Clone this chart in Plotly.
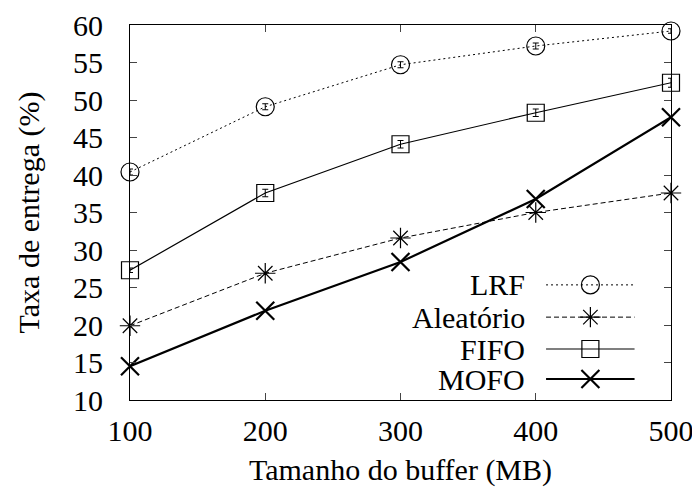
import plotly.graph_objects as go

buffer_mb = [100, 200, 300, 400, 500]
lrf = [40.4, 49.1, 54.7, 57.2, 59.2]
lrf_err = [0.4, 0.4, 0.4, 0.4, 0.3]
aleatorio = [19.9, 26.9, 31.6, 35.0, 37.6]
fifo = [27.3, 37.6, 44.1, 48.3, 52.3]
fifo_err = [0.3, 0.5, 0.5, 0.5, 0.6]
mofo = [14.5, 21.9, 28.4, 36.8, 47.7]
series_names = ["LRF", "Aleatório", "FIFO", "MOFO"]
x_ticks = [100, 200, 300, 400, 500]
y_ticks = [10, 15, 20, 25, 30, 35, 40, 45, 50, 55, 60]

FONT = "'Liberation Serif', 'Times New Roman', serif"
FS = 30

styles = {
    "LRF": dict(line=dict(color="black", width=1, dash="2px,3px"),
                marker=dict(symbol="circle-open", size=18, color="black", line=dict(width=1.2))),
    "Aleatório": dict(line=dict(color="black", width=1, dash="5px,3px"),
                      marker=dict(symbol="asterisk-open", size=17, color="black", line=dict(width=1.2))),
    "FIFO": dict(line=dict(color="black", width=1.2),
                 marker=dict(symbol="square-open", size=17, color="black", line=dict(width=1.2))),
    "MOFO": dict(line=dict(color="black", width=2.2),
                 marker=dict(symbol="x-thin-open", size=18, color="black", line=dict(width=2.2))),
}

data = {"LRF": (lrf, lrf_err), "Aleatório": (aleatorio, None),
        "FIFO": (fifo, fifo_err), "MOFO": (mofo, None)}

fig = go.Figure()
for name in series_names:
    vals, err = data[name]
    kw = {}
    if err is not None:
        kw["error_y"] = dict(type="data", array=err, color="black", thickness=1, width=3)
    fig.add_trace(go.Scatter(x=buffer_mb, y=vals, mode="lines+markers", name=name,
                             cliponaxis=False, showlegend=False, **styles[name], **kw))

# gnuplot-style legend (text left of sample)
leg_y = [0.307, 0.221, 0.136, 0.056]
for name, ly in zip(series_names, leg_y):
    fig.add_trace(go.Scatter(x=[0.0, 0.5, 1.0], y=[ly, ly, ly], xaxis="x2", yaxis="y2",
                             mode="lines", line=styles[name]["line"], showlegend=False,
                             hoverinfo="skip", cliponaxis=False))
    fig.add_trace(go.Scatter(x=[0.5], y=[ly], xaxis="x2", yaxis="y2", mode="markers",
                             marker=styles[name]["marker"], showlegend=False,
                             hoverinfo="skip", cliponaxis=False))
    fig.add_annotation(x=0.734, y=ly, xref="paper", yref="paper", text=name,
                       showarrow=False, xanchor="right", yanchor="middle",
                       font=dict(family=FONT, size=FS, color="black"))

fig.update_layout(
    width=700, height=490,
    margin=dict(l=122, r=37, t=17, b=98, autoexpand=False),
    plot_bgcolor="rgba(0,0,0,0)", paper_bgcolor="white",
    font=dict(family=FONT, size=FS, color="black"),
    xaxis=dict(range=[100, 500], tickvals=x_ticks, ticks="inside", ticklen=7,
               showline=True, linecolor="black", linewidth=1.2, mirror="ticks",
               showgrid=False, zeroline=False, automargin=False, ticklabelstandoff=4,
               title=dict(text="Tamanho do buffer (MB)", font=dict(family=FONT, size=FS), standoff=12),
               tickfont=dict(family=FONT, size=FS)),
    yaxis=dict(range=[10, 60], tickvals=y_ticks, ticks="inside", ticklen=7,
               showline=True, linecolor="black", linewidth=1.2, mirror="ticks",
               showgrid=False, zeroline=False, automargin=False, ticklabelstandoff=20,
               title=dict(text="Taxa de entrega (%)", font=dict(family=FONT, size=FS), standoff=24),
               tickfont=dict(family=FONT, size=FS)),
    xaxis2=dict(domain=[0.769, 0.933], range=[0, 1], visible=False, anchor="y2"),
    yaxis2=dict(domain=[0.0, 1.0], range=[0, 1], visible=False, anchor="x2"),
)

fig.write_html("out.html")
